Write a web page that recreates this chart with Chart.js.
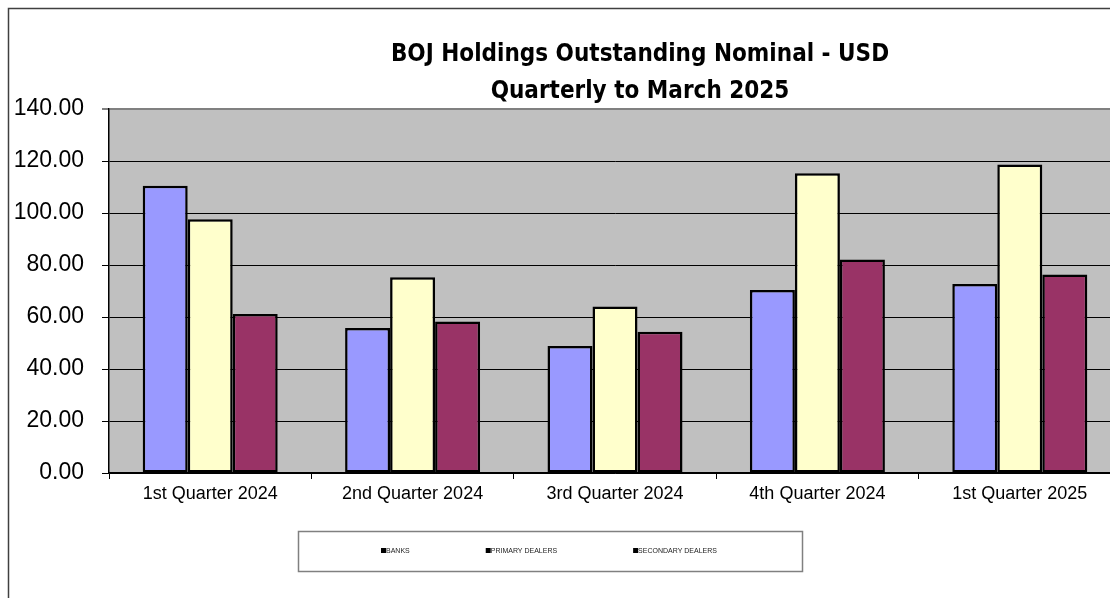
<!DOCTYPE html>
<html>
<head>
<meta charset="utf-8">
<script src="https://cdn.jsdelivr.net/npm/chart.js@4"></script>
<style>
  html, body { margin: 0; padding: 0; background: #fff; overflow: hidden; }
  #wrap { width: 1110px; height: 598px; overflow: hidden; }
</style>
</head>
<body>
<div id="wrap"><canvas id="bojChart" width="1272" height="598"></canvas></div>
<script>
const quarters = ['1st Quarter 2024', '2nd Quarter 2024', '3rd Quarter 2024', '4th Quarter 2024', '1st Quarter 2025'];
const seriesNames = ['BANKS', 'PRIMARY DEALERS', 'SECONDARY DEALERS'];
const banks = [110.5, 55.8, 48.8, 70.4, 72.7];
const primaryDealers = [97.6, 75.3, 64.0, 115.3, 118.7];
const secondaryDealers = [61.2, 58.3, 54.3, 82.1, 76.3];
const yTicks = [0, 20, 40, 60, 80, 100, 120, 140];
const titleLines = ['BOJ Holdings Outstanding Nominal - USD', 'Quarterly to March 2025'];

const colors = ['#9999FF', '#FFFFCC', '#993366'];
const AXIS_FONT = "'Liberation Sans', Arial, sans-serif";

// plot background, outer frame, title and the boxed legend (Excel style)
const excelFrame = {
    id: 'excelFrame',
    beforeDraw(chart) {
        const { ctx, chartArea: a } = chart;
        ctx.save();
        ctx.fillStyle = '#C0C0C0';
        ctx.fillRect(a.left, a.top, a.right - a.left, a.bottom - a.top);
        ctx.restore();
    },
    afterDraw(chart) {
        const ctx = chart.ctx;
        ctx.save();
        // outer chart border
        ctx.strokeStyle = '#404040';
        ctx.lineWidth = 1.5;
        ctx.beginPath();
        ctx.moveTo(8.5, 598);
        ctx.lineTo(8.5, 8.5);
        ctx.lineTo(chart.width, 8.5);
        ctx.stroke();

        // title, centred on the whole chart object (which runs past the window)
        ctx.fillStyle = '#000';
        ctx.font = "bold 24px 'DejaVu Sans Condensed', 'Liberation Sans Narrow', Arial, sans-serif";
        ctx.textAlign = 'center';
        ctx.textBaseline = 'middle';
        titleLines.forEach((line, i) => ctx.fillText(line, 640, 55 + i * 37));

        // legend box
        ctx.textAlign = 'left';
        ctx.strokeStyle = '#808080';
        ctx.lineWidth = 1.5;
        ctx.strokeRect(298.5, 531.5, 504, 40);

        ctx.font = "7px " + AXIS_FONT;
        let x = 381;
        const y = 551;
        chart.data.datasets.forEach(ds => {
            ctx.fillStyle = '#000';
            ctx.fillRect(x, y - 3, 5, 5);
            ctx.fillStyle = '#222';
            ctx.fillText(ds.label, x + 5, y);
            x += 5 + ctx.measureText(ds.label).width + 76;
        });
        ctx.restore();
    }
};

const datasets = [banks, primaryDealers, secondaryDealers].map((values, i) => ({
    label: seriesNames[i],
    data: values,
    backgroundColor: colors[i],
    borderColor: '#000',
    borderWidth: 2.5,
    borderSkipped: false,
    categoryPercentage: 0.667,
    barPercentage: 1.0
}));

new Chart(document.getElementById('bojChart'), {
    type: 'bar',
    data: { labels: quarters, datasets },
    options: {
        responsive: false,
        animation: false,
        layout: { padding: { left: 0, right: 151, top: 109, bottom: 0 } },
        plugins: {
            legend: { display: false },
            tooltip: { enabled: false },
            title: { display: false }
        },
        scales: {
            x: {
                offset: true,
                grid: { offset: true, drawOnChartArea: false, drawTicks: true, tickLength: 6, color: '#000', lineWidth: 1 },
                border: { color: '#000', width: 1.5 },
                ticks: { color: '#000', padding: 4, font: { family: AXIS_FONT, size: 18 }, maxRotation: 0 },
                afterFit(scale) { scale.height = 125; }
            },
            y: {
                min: 0,
                max: 140,
                afterBuildTicks(scale) { scale.ticks = yTicks.map(v => ({ value: v })); },
                grid: {
                    color: ctx => ctx.tick && ctx.tick.value === 140 ? '#808080' : '#000',
                    lineWidth: ctx => ctx.tick && ctx.tick.value === 140 ? 2 : 1,
                    tickLength: 7
                },
                border: { color: '#000', width: 1.5 },
                ticks: {
                    color: '#000',
                    padding: 18,
                    font: { family: AXIS_FONT, size: 23 },
                    callback: v => Number(v).toFixed(2)
                },
                afterFit(scale) { scale.width = 109; }
            }
        }
    },
    plugins: [excelFrame]
});
</script>
</body>
</html>
